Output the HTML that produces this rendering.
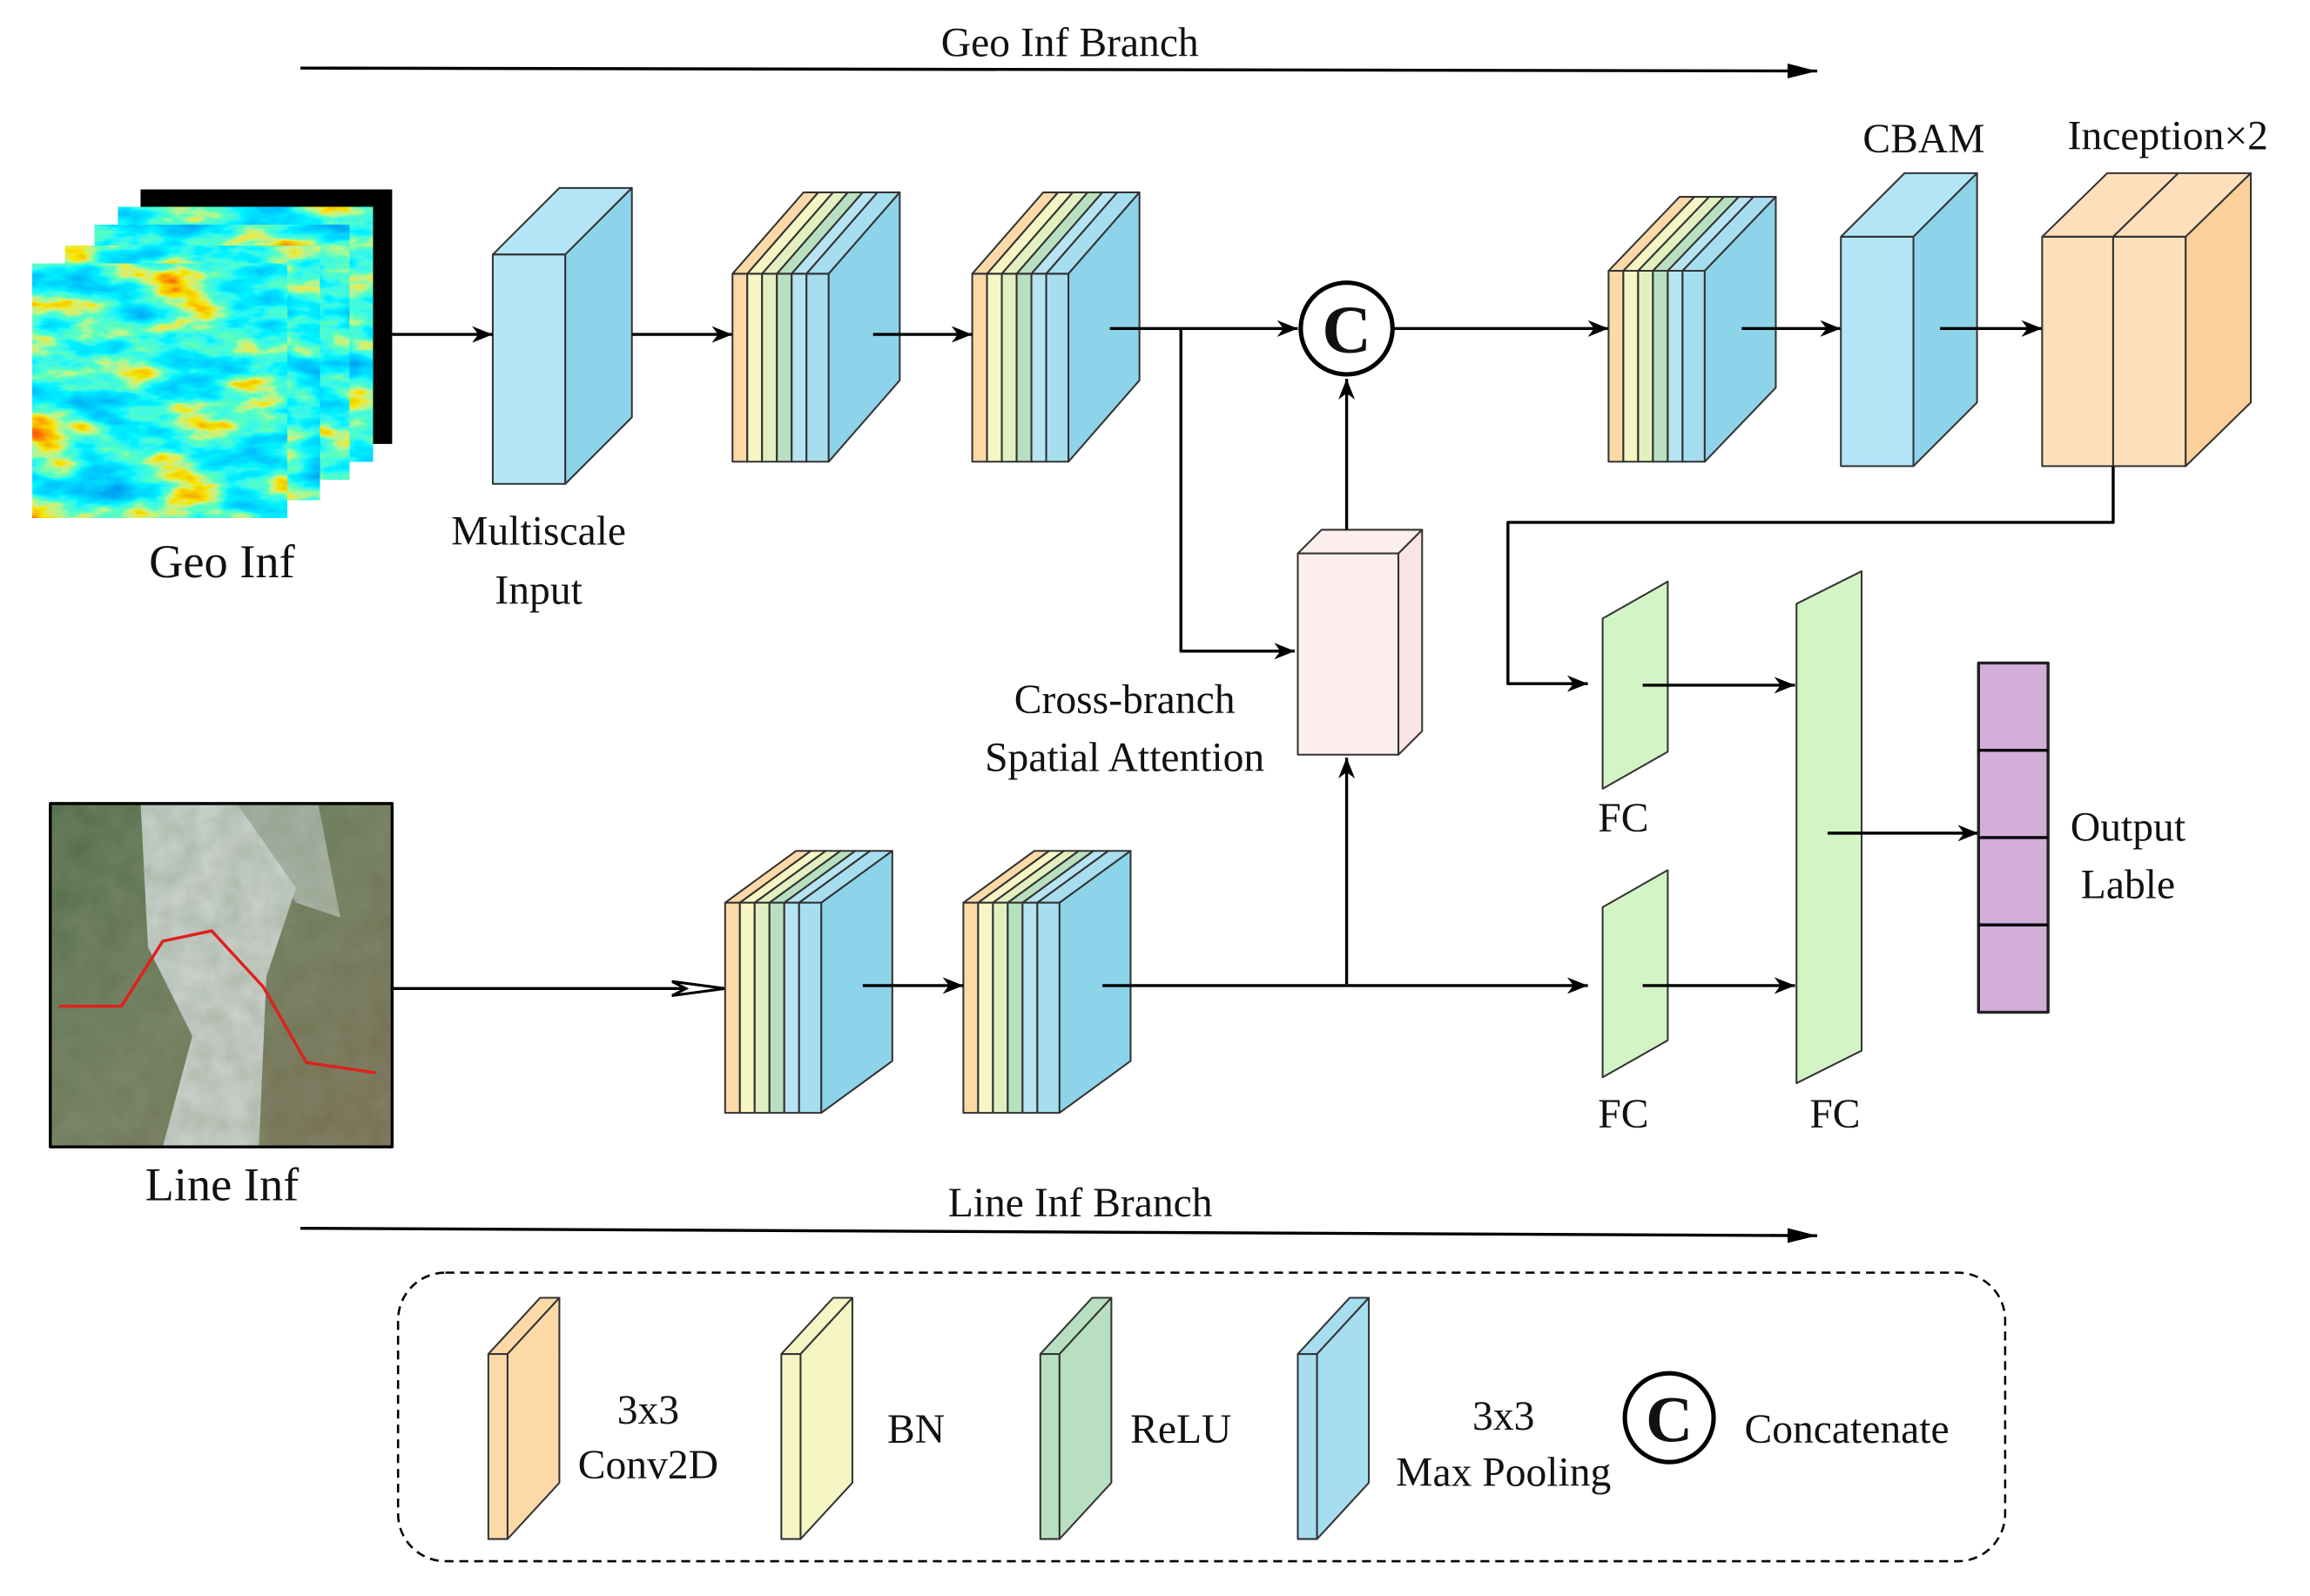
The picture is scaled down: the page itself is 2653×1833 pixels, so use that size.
<!DOCTYPE html>
<html><head><meta charset="utf-8"><style>
html,body{margin:0;padding:0;background:#fff}
svg{display:block}
</style></head><body>
<svg id="s" width="2653" height="1833" viewBox="0 0 1561 1078.5" preserveAspectRatio="none" xmlns="http://www.w3.org/2000/svg">
<defs>
<marker id="a" viewBox="0 0 10 10" refX="10" refY="5" markerWidth="7" markerHeight="7" orient="auto"><path d="M0,1 L10,5 L0,9 L3,5z" fill="#000"/></marker>
<marker id="big" viewBox="0 0 20 10" refX="20" refY="5" markerWidth="20" markerHeight="10" markerUnits="userSpaceOnUse" orient="auto"><path d="M0,0 L20,5 L0,10z" fill="#000"/></marker>
<marker id="open" viewBox="0 0 30 10" refX="30" refY="5" markerWidth="36" markerHeight="12" markerUnits="userSpaceOnUse" orient="auto"><path d="M0,1 L30,5 L0,9 L8,5z" fill="#fff" stroke="#000" stroke-width="1.5"/></marker>
<filter id="jet" x="0" y="0" width="100%" height="100%">
<feTurbulence type="fractalNoise" baseFrequency="0.02 0.05" numOctaves="4" seed="4"/>
<feColorMatrix type="matrix" values="0 0 0 0 0  0 0 0 0 0  0 0 0 0 0  1 0 0 0 0"/>
<feColorMatrix type="matrix" values="0 0 0 1 0  0 0 0 1 0  0 0 0 1 0  0 0 0 0 1"/>
<feComponentTransfer><feFuncR type="table" tableValues="0 0 0 0 0.1 0.9 1 0.8"/><feFuncG type="table" tableValues="0.2 0.4 0.6 0.9 1 0.8 0.2 0"/><feFuncB type="table" tableValues="0.8 0.9 1 1 0.5 0 0 0"/></feComponentTransfer>
</filter>
<filter id="mtn" x="0" y="0" width="100%" height="100%">
<feTurbulence type="fractalNoise" baseFrequency="0.06" numOctaves="3" seed="7"/>
<feColorMatrix type="matrix" values="0 0 0 0 0.25  0 0 0 0 0.3  0 0 0 0 0.2  0 0 0 0.5 0"/>
</filter>
<linearGradient id="mt" x1="0" y1="0" x2="1" y2="1"><stop offset="0" stop-color="#4d6a45"/><stop offset="0.5" stop-color="#6f7b5a"/><stop offset="1" stop-color="#7a6a4e"/></linearGradient>
</defs>
<g id="g" stroke-linejoin="round"></g>
</svg>
<script>
const g=document.getElementById('g');let h='';
function ln(x1,y1,x2,y2,m){h+=`<line x1="${x1}" y1="${y1}" x2="${x2}" y2="${y2}" stroke="#000" stroke-width="2" ${m?`marker-end="url(#${m})"`:''}/>`;}
function pl(p,m){h+=`<polyline points="${p}" fill="none" stroke="#000" stroke-width="2" ${m?`marker-end="url(#${m})"`:''}/>`;}
function tx(x,y,s,t,w){h+=`<text x="${x}" y="${y}" font-size="${s}" text-anchor="middle" font-family="'Liberation Serif','Times New Roman',serif" fill="#111" ${w?'font-weight="bold"':''}>${t}</text>`;}
function box(x,y,w,hh,dx,dy,f,sd,tp){
 h+=`<polygon points="${x},${y} ${x+dx},${y-dy} ${x+w+dx},${y-dy} ${x+w},${y}" fill="${tp||f}" stroke="#333" stroke-width="1.2"/>`;
 h+=`<rect x="${x}" y="${y}" width="${w}" height="${hh}" fill="${f}" stroke="#333" stroke-width="1.2"/>`;
 h+=`<polygon points="${x+w},${y} ${x+w+dx},${y-dy} ${x+w+dx},${y+hh-dy} ${x+w},${y+hh}" fill="${sd}" stroke="#333" stroke-width="1.2"/>`;}
const cols=['#fdd9a8','#f6f5c4','#e2f0c0','#b8e0c0','#b6e4f3'];
function stack(x,y,hh,dx,dy){
 for(let i=0;i<5;i++) box(x+i*10,y,10,hh,dx,dy,cols[i],cols[i]);
 box(x+50,y,15,hh,dx,dy,'#a6def0','#8dd3ea','#a6def0');}
ln(203,46,1228,48,'big');tx(723,38,28,'Geo Inf Branch');
h+=`<rect x="95" y="128" width="170" height="172" fill="#000"/>`;
[[80,140],[64,152],[44,166],[22,178]].forEach((p,i)=>{h+=`<rect x="${p[0]}" y="${p[1]}" width="172" height="172" fill="#1a5ee0"/><rect x="${p[0]}" y="${p[1]}" width="172" height="172" filter="url(#jet)"/>`;});
tx(150,390,32,'Geo Inf');
box(333,172,49,155,45,45,'#b3e5f7','#8dd3ea');
tx(364,368,28,'Multiscale');tx(364,408,28,'Input');
ln(265,226,333,226,'a');ln(427,226,495,226,'a');
stack(495,185,127,48,55);stack(657,185,127,48,55);
ln(590,226,657,226,'a');
ln(750,222,877,222,'a');pl('798,222 798,440 875,440','a');
h+=`<circle cx="910" cy="222" r="31" fill="#fff" stroke="#000" stroke-width="3"/>`;tx(910,238,46,'C',1);
ln(942,222,1087,222,'a');
stack(1087,183,129,48,50);
ln(1177,222,1244,222,'a');
box(1244,160,49,155,43,43,'#b3e5f7','#8dd3ea');tx(1300,103,28,'CBAM');
ln(1311,222,1380,222,'a');
box(1380,160,48,155,44,43,'#fde0bb','#fdd09a');box(1428,160,49,155,44,43,'#fde0bb','#fdd09a');
tx(1465,101,28,'Inception×2');
pl('1428,315 1428,353 1019,353 1019,462 1073,462','a');
box(877,374,68,136,16,16,'#fdeeee','#fbe4e4');
ln(910,358,910,256,'a');ln(910,665,910,512,'a');
tx(760,482,28,'Cross-branch');tx(760,521,28,'Spatial Attention');
h+=`<rect x="34" y="543" width="231" height="232" fill="url(#mt)"/>
<path d="M95,543 L160,543 L200,600 L180,660 L175,775 L110,775 L130,700 L100,640z" fill="#dfe6e8" opacity="0.85"/>
<path d="M160,543 L215,543 L230,620 L200,610z" fill="#cfd8d8" opacity="0.6"/>
<rect x="34" y="543" width="231" height="232" filter="url(#mtn)"/>
<rect x="34" y="543" width="231" height="232" fill="none" stroke="#000" stroke-width="2"/>
<polyline points="40,680 82,680 110,636 143,629 178,667 207,718 254,725" fill="none" stroke="#e0201c" stroke-width="2"/>`;
tx(150,811,32,'Line Inf');
ln(265,668,490,668,'open');
stack(490,610,142,48,35);stack(651,610,142,48,35);
ln(583,666,651,666,'a');ln(745,666,1073,666,'a');
h+=`<polygon points="1083,418 1127,393 1127,508 1083,533" fill="#d3f5c5" stroke="#333" stroke-width="1.2"/>
<polygon points="1083,613 1127,588 1127,703 1083,728" fill="#d3f5c5" stroke="#333" stroke-width="1.2"/>
<polygon points="1214,408 1258,386 1258,710 1214,732" fill="#d3f5c5" stroke="#333" stroke-width="1.2"/>`;
ln(1110,463,1213,463,'a');ln(1110,666,1213,666,'a');ln(1235,563,1337,563,'a');
h+=`<rect x="1337" y="448" width="47" height="236" fill="#d2aed9" stroke="#222" stroke-width="2"/>`;
[507,566,625].forEach(y=>ln(1337,y,1384,y));
tx(1097,562,28,'FC');tx(1097,762,28,'FC');tx(1240,762,28,'FC');
tx(1438,568,28,'Output');tx(1438,607,28,'Lable');
ln(203,830,1228,835,'big');tx(730,822,28,'Line Inf Branch');
h+=`<rect x="269" y="860" width="1086" height="195" rx="32" fill="none" stroke="#000" stroke-width="1.5" stroke-dasharray="6,4"/>`;
[[330,'#fdd9a8'],[528,'#f6f5c4'],[703,'#b8e0c0'],[877,'#a6def0']].forEach(p=>box(p[0],915,13,125,35,38,p[1],p[1]));
tx(438,962,28,'3x3');tx(438,999,28,'Conv2D');tx(619,975,28,'BN');tx(798,975,28,'ReLU');
tx(1016,966,28,'3x3');tx(1016,1004,28,'Max Pooling');
h+=`<circle cx="1128" cy="958" r="30" fill="#fff" stroke="#000" stroke-width="3"/>`;tx(1128,974,44,'C',1);
tx(1248,975,28,'Concatenate');
g.innerHTML=h;
// vary seeds per geo layer
</script>
<script>
(function(){const s=document.getElementById('s');const d=s.querySelector('defs');
const base=document.getElementById('jet');
const rs=[...s.querySelectorAll('rect[filter="url(#jet)"]')];
rs.forEach((r,i)=>{const c=base.cloneNode(true);c.id='jet'+i;c.querySelector('feTurbulence').setAttribute('seed',String(3+i*5));d.appendChild(c);r.setAttribute('filter','url(#jet'+i+')');});})();
</script>
</body></html>
